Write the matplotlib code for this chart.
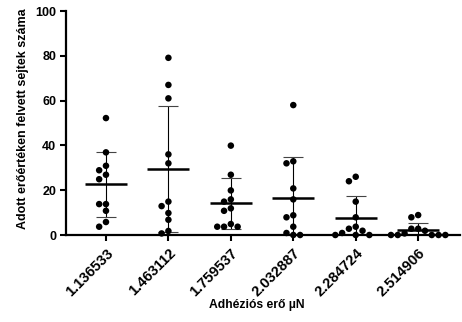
import numpy as np
import matplotlib
matplotlib.use('Agg')
import matplotlib.pyplot as plt

plt.rcParams['font.family'] = ['Liberation Sans', 'DejaVu Sans']
plt.rcParams['font.weight'] = 'bold'

# categories (adhesion force, uN) and cell counts per category
categories = ['1.136533', '1.463112', '1.759537', '2.032887', '2.284724', '2.514906']
counts = [
    [52.2, 36.9, 30.9, 28.9, 26.9, 24.9, 13.8, 13.8, 10.8, 5.8, 3.7],
    [79.1, 67.0, 61.0, 36.0, 32.0, 14.9, 12.9, 9.8, 6.8, 1.8, 0.7],
    [39.9, 26.9, 19.9, 15.9, 14.9, 11.9, 10.8, 4.9, 3.7, 3.7, 3.7],
    [58.0, 32.9, 32.0, 20.8, 15.9, 8.8, 7.9, 3.7, 0.9, 0.0, 0.0],
    [26.0, 24.0, 14.9, 7.9, 3.7, 2.8, 1.9, 0.9, 0.0, 0.0, 0.0],
    [8.9, 7.9, 2.8, 2.8, 1.9, 0.7, 0.0, 0.0, 0.0, 0.0, 0.0],
]
y_ticks = [0, 20, 40, 60, 80, 100]

W, H = 462, 322
fig = plt.figure(figsize=(W / 100, H / 100), dpi=100)
ax_l, ax_r, ax_t, ax_b = 66, 460, 11, 235
ax = fig.add_axes([ax_l / W, 1 - ax_b / H, (ax_r - ax_l) / W, (ax_b - ax_t) / H])
xlim = (-0.64, 5.67)
ax.set_xlim(*xlim)
ax.set_ylim(0, 100)

px_per_x = (ax_r - ax_l) / (xlim[1] - xlim[0])
px_per_y = (ax_b - ax_t) / 100.0


def swarm_offsets(vals, slot=6.8, diam=6.3):
    # greedy beeswarm in pixel space, returns x offsets in data units
    placed = []
    offs = []
    order = [0]
    for j in range(1, 20):
        order += [-j, j]
    for v in vals:
        for k in order:
            x = k * slot
            if all(np.hypot(x - px, (v - py) * px_per_y) >= diam for px, py in placed):
                break
        placed.append((x, v))
        offs.append(x / px_per_x)
    return np.array(offs)


for i, vals in enumerate(counts):
    vals = np.array(vals)
    m = vals.mean()
    sd = vals.std(ddof=1)
    ax.hlines(m, i - 0.335, i + 0.335, color='black', lw=1.8, zorder=3)
    ax.vlines(i, max(m - sd, 0), m + sd, color='black', lw=0.8, zorder=2)
    for y in (m - sd, m + sd):
        if y >= 0:
            ax.hlines(y, i - 0.16, i + 0.16, color='#444444', lw=0.8, zorder=2)
    xs = i + swarm_offsets(vals)
    ax.scatter(xs, vals, s=22, color='black', edgecolors='none', zorder=4, clip_on=False)

ax.spines['top'].set_visible(False)
ax.spines['right'].set_visible(False)
for s in ('left', 'bottom'):
    ax.spines[s].set_linewidth(1.6)

ax.set_yticks(y_ticks)
ax.set_xticks(range(len(categories)))
ax.set_xticklabels(categories, rotation=45, ha='right', va='top', rotation_mode='anchor')
ax.tick_params(axis='both', length=4, width=1.5, labelsize=9, pad=3)
ax.tick_params(axis='x', labelsize=10.5, pad=4)

ax.set_ylabel('Adott erőértéken felvett sejtek száma', fontsize=9, fontweight='bold')
ax.yaxis.label.set_va('center')
ax.yaxis.set_label_coords((23 - ax_l) / (ax_r - ax_l), (ax_b - 118.5) / (ax_b - ax_t))
ax.set_xlabel('Adhéziós erő µN', fontsize=8.7, fontweight='bold')
ax.xaxis.label.set_va('center')
ax.xaxis.set_label_coords((256.7 - ax_l) / (ax_r - ax_l), (ax_b - 305) / (ax_b - ax_t))

fig.savefig('out.png', dpi=100)
